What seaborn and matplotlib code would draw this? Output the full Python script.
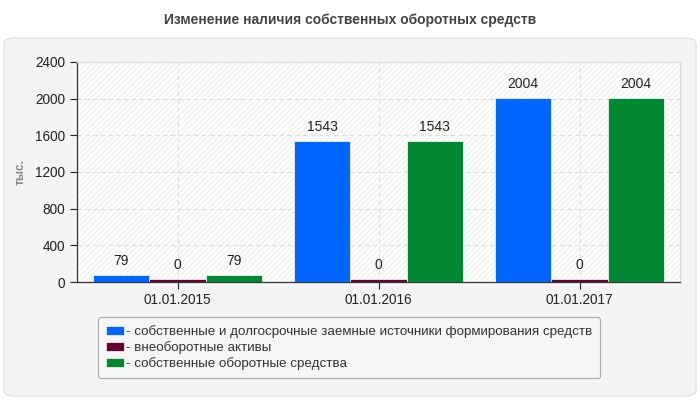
import pandas as pd
import seaborn as sns
import matplotlib.pyplot as plt
from matplotlib.patches import FancyBboxPatch, Rectangle

# Data
dates = ['01.01.2015', '01.01.2016', '01.01.2017']
series = ['- собственные и долгосрочные заемные источники формирования средств',
          '- внеоборотные активы',
          '- собственные оборотные средства']
own_long = [79, 1543, 2004]
fixed_assets = [0, 0, 0]
own_working = [79, 1543, 2004]
colors = ['#0066ff', '#660033', '#008833']
y_ticks = [0, 400, 800, 1200, 1600, 2000, 2400]

# long format for seaborn
rows = []
for s, vals in zip(series, [own_long, fixed_assets, own_working]):
    for d, v in zip(dates, vals):
        rows.append({'date': d, 'series': s, 'value': v})
df = pd.DataFrame(rows)
# zero bars are drawn as a thin strip, like the original
df['shown'] = df['value'].clip(lower=30)

sns.set_style('white')
plt.rcParams['font.family'] = ['Liberation Sans', 'DejaVu Sans']
plt.rcParams['hatch.linewidth'] = 0.6

fig = plt.figure(figsize=(7, 4), dpi=100)
fig.patch.set_facecolor('white')

# gray panel behind the chart
panel = FancyBboxPatch((4 / 700, 4 / 400), 692 / 700, 358 / 400,
                       boxstyle='round,pad=0,rounding_size=0.015',
                       transform=fig.transFigure, facecolor='#f4f4f4',
                       edgecolor='#e2e2e2', linewidth=1, zorder=-10)
fig.patches.append(panel)

fig.text(0.5, 1 - 20 / 400, 'Изменение наличия собственных оборотных средств',
         ha='center', va='center', fontsize=10, fontweight='bold', color='#444444')

ax = fig.add_axes([77 / 700, 1 - 282 / 400, 603 / 700, 220 / 400])
ax.set_facecolor('#fdfdfb')
ax.add_patch(Rectangle((0, 0), 1, 1, transform=ax.transAxes, facecolor='none',
                       edgecolor='#ececec', hatch='//////', linewidth=0, zorder=0))

sns.barplot(data=df, x='date', y='shown', hue='series', hue_order=series,
            palette=colors, width=0.84, dodge=True, ax=ax, saturation=1,
            edgecolor='#fdfdfb', linewidth=0.5, zorder=3, legend=True)

for cont, s in zip(ax.containers, series):
    labels = [str(v) for v in df[df['series'] == s]['value']]
    ax.bar_label(cont, labels=labels, padding=5, fontsize=10, color='#222222')

ax.set_ylim(0, 2400)
ax.set_xlim(-0.5, 2.5)
ax.set_yticks(y_ticks)
ax.set_xlabel('')
ax.set_ylabel('тыс.', fontsize=8.5, fontweight='bold', color='#888888', labelpad=6)
ax.grid(True, color='#dddddd', linestyle=(0, (4, 3)), linewidth=0.8, zorder=1)
ax.set_axisbelow(True)
ax.tick_params(axis='both', labelsize=9.8, colors='#222222', length=5, width=0.8,
               direction='out', left=True, bottom=True)
ax.tick_params(axis='x', pad=3)
for side in ['top', 'right']:
    ax.spines[side].set_color('#dddddd')
for side in ['left', 'bottom']:
    ax.spines[side].set_color('#333333')
    ax.spines[side].set_linewidth(0.9)

handles, labels = ax.get_legend_handles_labels()
ax.legend_.remove()
leg = fig.legend(handles, labels, loc='upper left',
                 bbox_to_anchor=(98 / 700, 1 - 317 / 400), borderaxespad=0,
                 fontsize=9.6, frameon=True, fancybox=True, edgecolor='#aaaaaa',
                 facecolor='#f6f6f6', handlelength=1.35, handleheight=0.7,
                 handletextpad=0.15, labelspacing=0.25, borderpad=0.6, framealpha=1)
leg.get_frame().set_linewidth(0.8)
for t in leg.get_texts():
    t.set_color('#333333')

fig.savefig('out.png', dpi=100)
